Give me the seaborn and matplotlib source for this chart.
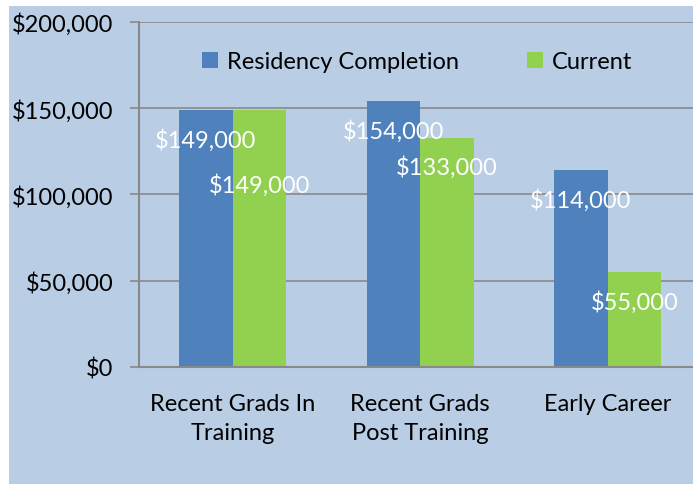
import seaborn as sns
import matplotlib.pyplot as plt
import matplotlib.patches as mpatches
import pandas as pd

categories = ["Recent Grads In\nTraining", "Recent Grads\nPost Training", "Early Career"]
series_names = ["Residency Completion", "Current"]
residency = [149000, 154000, 114000]
current = [149000, 133000, 55000]
y_ticks = [0, 50000, 100000, 150000, 200000]

bg = "#B9CDE5"
colors = ["#4F81BD", "#92D050"]
axis_gray = "#898989"

df = pd.DataFrame({
    "category": categories * 2,
    "series": [series_names[0]] * 3 + [series_names[1]] * 3,
    "value": residency + current,
})

sns.set_theme(style="white")
plt.rcParams["font.family"] = ["Lato", "DejaVu Sans"]
plt.rcParams["text.color"] = "black"
fs = 17

W, H = 693, 485
fig = plt.figure(figsize=(W / 100, H / 100), dpi=100, facecolor="white")
fig.patches.append(mpatches.Rectangle((9 / W, 0), 1, 1 - 7 / H, transform=fig.transFigure,
                                      facecolor=bg, edgecolor="none", zorder=-1))
ax = fig.add_axes([139 / W, 1 - 368 / H, (701.5 - 139) / W, (368 - 23) / H])
ax.set_facecolor(bg)

sns.barplot(data=df, x="category", y="value", hue="series", palette=colors,
            width=0.57, saturation=1, linewidth=0, ax=ax, legend=True)

ax.set_xlim(-0.5, 2.5)
ax.set_ylim(0, 200000)
ax.set_yticks(y_ticks)
ax.set_yticklabels([f"${v:,.0f}" for v in y_ticks], fontsize=fs)
ax.yaxis.grid(True, color=axis_gray, linewidth=1.2)
ax.set_axisbelow(True)
ax.set_xlabel("")
ax.set_ylabel("")
ax.tick_params(axis="x", which="major", length=0, labelsize=fs, pad=19, labelcolor="black")
for lbl in ax.get_xticklabels():
    lbl.set_linespacing(1.45)
ax.set_xticks([-0.5, 0.5, 1.5, 2.5], minor=True)
ax.tick_params(axis="x", which="minor", length=6.5, width=1.2, color=axis_gray, direction="out")
ax.tick_params(axis="y", length=6.5, width=1.2, color=axis_gray, direction="out", left=True,
               pad=12, labelcolor="black")
for side in ["top", "right"]:
    ax.spines[side].set_visible(False)
for side in ["left", "bottom"]:
    ax.spines[side].set_color(axis_gray)
    ax.spines[side].set_linewidth(1.5)

# data labels (white, inside the bars)
offsets = [[-21, -21, -21], [-54, -21, -21]]
for i, cont in enumerate(ax.containers):
    for j, bar in enumerate(cont):
        v = bar.get_height()
        ax.annotate(f"${v:,.0f}", (bar.get_x() + bar.get_width() / 2, v),
                    xytext=(0, offsets[i][j]), textcoords="offset points",
                    ha="center", va="center", color="white", fontsize=fs)

handles, labels = ax.get_legend_handles_labels()
ax.legend(handles, labels, loc="upper center", bbox_to_anchor=(0.495, 0.977), ncol=2,
          frameon=False, fontsize=fs, handlelength=0.65, handleheight=0.65,
          handletextpad=0.4, columnspacing=2.9, labelcolor="black")

fig.savefig("out.png", dpi=100, facecolor=fig.get_facecolor())
